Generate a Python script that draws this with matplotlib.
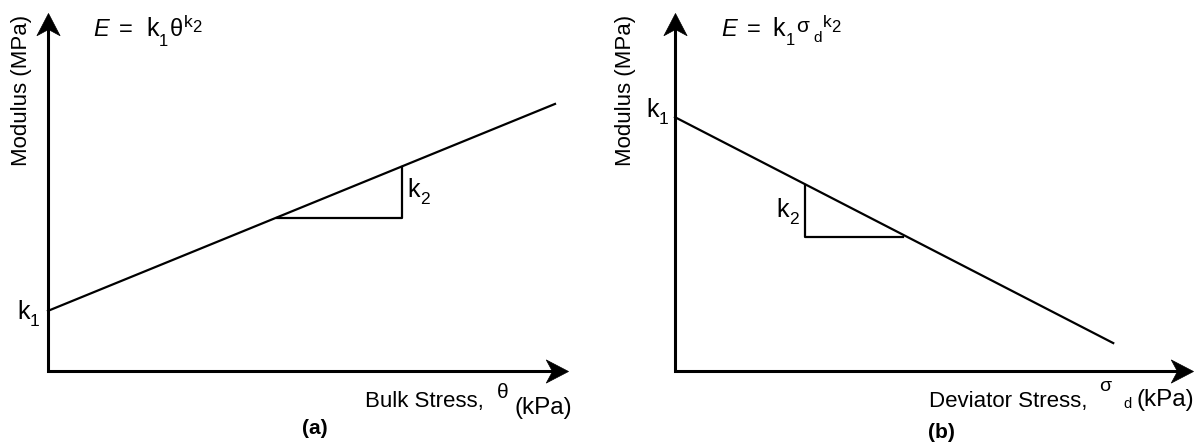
import matplotlib
matplotlib.use("Agg")
import matplotlib.pyplot as plt
from matplotlib.path import Path

plt.rcParams['font.family'] = ['Liberation Sans', 'DejaVu Sans']

W, H = 1200, 443

# ---- data (in each panel's own units, 0..10 on both axes) ----
a_line_x = [0.0, 9.75]
a_line_y = [1.68, 7.46]
a_tri_x = [4.40, 6.81, 6.81]
a_tri_y = [4.28, 4.28, 5.70]

b_line_x = [0.0, 8.46]
b_line_y = [7.09, 0.78]
b_tri_x = [2.51, 2.51, 4.40]
b_tri_y = [5.20, 3.74, 3.74]

ylabel_text = "Modulus (MPa)"
a_xlabel = "Bulk Stress, "
b_xlabel = "Deviator Stress, "
unit_text = "(kPa)"
panel_labels = ["(a)", "(b)"]

fig = plt.figure(figsize=(W / 100, H / 100), dpi=100)


def px(x, y):
    return x / W, 1 - y / H


# stealth-style arrow heads (tip at origin)
right_head = Path([(0, 0), (-1, 0.52), (-0.72, 0), (-1, -0.52), (0, 0)],
                  [Path.MOVETO, Path.LINETO, Path.LINETO, Path.LINETO, Path.CLOSEPOLY])
up_head = Path([(0, 0), (0.52, -1), (0, -0.72), (-0.52, -1), (0, 0)],
               [Path.MOVETO, Path.LINETO, Path.LINETO, Path.LINETO, Path.CLOSEPOLY])


def make_axes(left_px, right_px):
    bottom_px, top_px = 371, 13
    ax = fig.add_axes([left_px / W, (H - bottom_px) / H,
                       (right_px - left_px) / W, (bottom_px - top_px) / H])
    ax.set_xlim(0, 10)
    ax.set_ylim(0, 10)
    ax.axis('off')
    ax.plot([0, 0, 0.99], [0.985, 0, 0], transform=ax.transAxes, color='black',
            lw=2.2, clip_on=False, solid_joinstyle='miter', solid_capstyle='butt')
    ax.plot([1], [0], transform=ax.transAxes, marker=right_head, ms=32,
            color='black', mec='black', mew=0.5, clip_on=False)
    ax.plot([0], [1], transform=ax.transAxes, marker=up_head, ms=32,
            color='black', mec='black', mew=0.5, clip_on=False)
    return ax


ax1 = make_axes(48, 568)
ax1.plot(a_line_x, a_line_y, color='black', lw=1.6, clip_on=False)
ax1.plot(a_tri_x, a_tri_y, color='black', lw=1.6, clip_on=False)

ax2 = make_axes(675, 1193)
ax2.plot(b_line_x, b_line_y, color='black', lw=1.6, clip_on=False)
ax2.plot(b_tri_x, b_tri_y, color='black', lw=1.6, clip_on=False)


def t(x, y, s, size, **kw):
    kw.setdefault('va', 'baseline')
    kw.setdefault('ha', 'left')
    fig.text(*px(x, y), s, fontsize=size, color='black', **kw)


# y labels
t(21, 90, ylabel_text, 16, rotation=90, va='center', ha='center')
t(625, 90, ylabel_text, 16, rotation=90, va='center', ha='center')

# equation (a)
t(93, 36, "E", 17, style='italic')
t(119, 36, "=", 17)
t(146, 36, "k", 18)
t(159, 46, "1", 12)
t(170, 36, "θ", 17)
t(184, 27, "k", 12.5)
t(192, 32, "2", 12)

# equation (b)
t(721, 36, "E", 17, style='italic')
t(747, 36, "=", 17)
t(772, 36, "k", 18)
t(786, 45, "1", 12)
t(796, 32, "σ", 15)
t(813, 42, "d", 11)
t(823, 27, "k", 12.5)
t(831, 32, "2", 12)

# k labels
t(17, 319, "k", 18)
t(30, 326, "1", 12.5)
t(407, 197, "k", 18)
t(420, 204, "2", 12.5)
t(646, 117, "k", 18)
t(659, 124, "1", 12.5)
t(776, 217, "k", 18)
t(789, 224, "2", 12.5)

# x labels
t(365, 407, a_xlabel, 16)
t(497, 398, "θ", 15)
t(514, 414, unit_text, 17.5)

t(929, 407, b_xlabel, 16)
t(1099, 391, "σ", 14)
t(1123, 408, "d", 10.5)
t(1137, 406, unit_text, 17.5)

# panel labels
t(315, 428, panel_labels[0], 15, weight='bold', ha='center', va='center')
t(941, 432, panel_labels[1], 15, weight='bold', ha='center', va='center')

fig.savefig("out.png", dpi=100)
